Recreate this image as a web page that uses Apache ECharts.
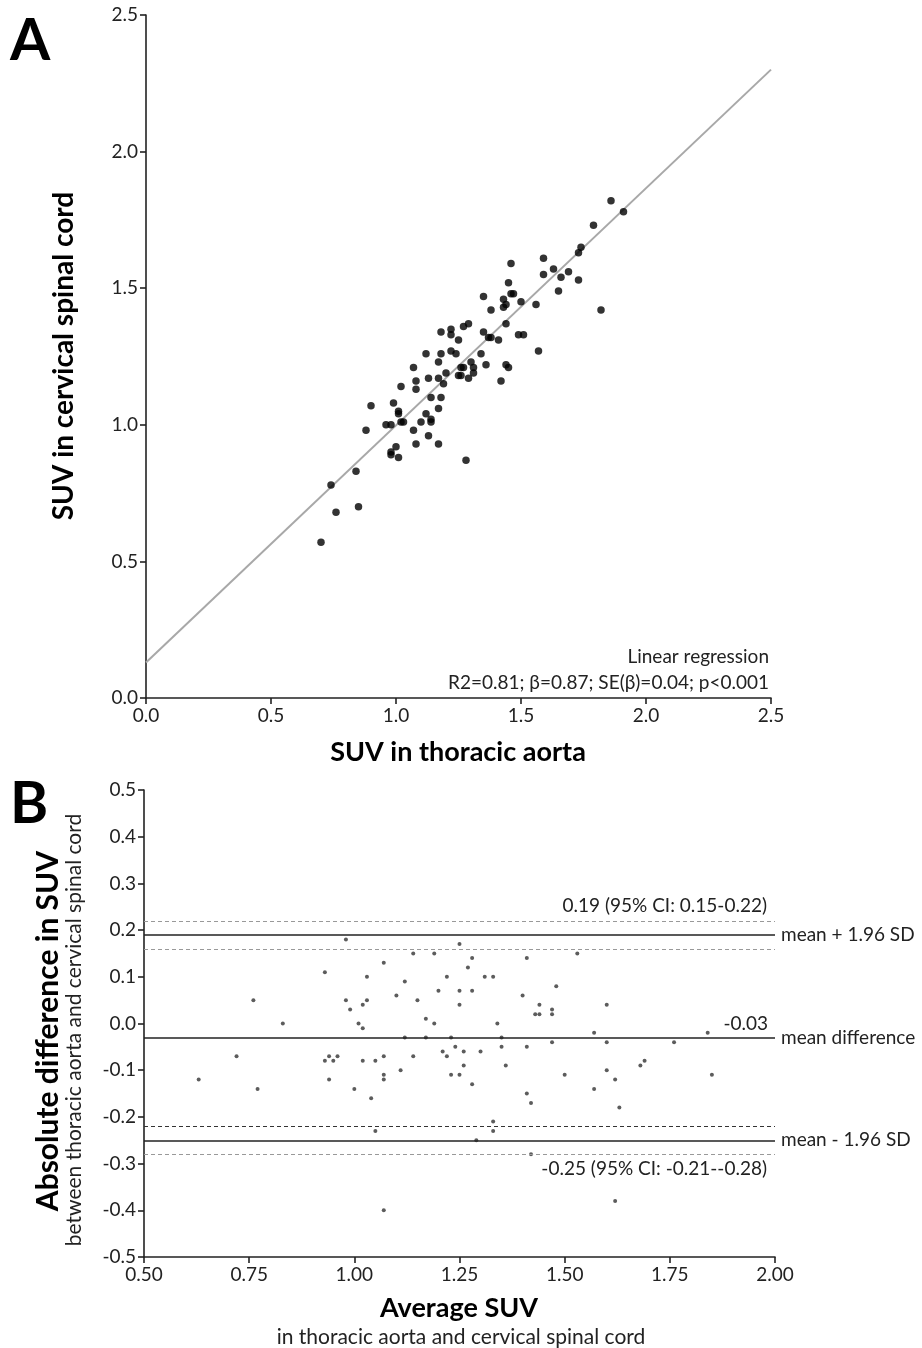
<!DOCTYPE html>
<html><head><meta charset="utf-8">
<script src="https://cdn.jsdelivr.net/npm/echarts@6/dist/echarts.min.js"></script>
<style>html,body{margin:0;padding:0;background:#fff}#c{width:922px;height:1348px}</style>
</head><body><div id="c"></div>
<script>
// Panel A: SUV in thoracic aorta (x) vs SUV in cervical spinal cord (y)
const aortaSUV = [1.86,1.91,1.79,1.74,1.73,1.59,1.63,1.59,1.66,1.69,1.73,1.65,1.82,1.46,1.45,1.46,1.47,1.43,1.44,1.43,1.50,1.56,1.35,1.38,1.44,1.29,1.27,1.22,1.22,1.18,1.25,1.35,1.37,1.38,1.41,1.49,1.51,1.57,1.22,1.24,1.18,1.12,1.17,1.34,1.30,1.36,1.44,1.45,1.27,1.26,1.31,1.31,1.25,1.26,1.29,1.20,1.17,1.13,1.19,1.07,1.08,1.08,1.02,1.42,0.90,0.99,1.01,1.01,1.14,1.18,1.17,1.12,1.14,1.14,1.10,1.02,1.03,0.96,0.98,0.88,1.07,1.13,1.08,1.17,1.00,0.98,0.98,1.01,1.28,0.84,0.74,0.76,0.85,0.70];
const spinalSUV = [1.82,1.78,1.73,1.65,1.63,1.61,1.57,1.55,1.54,1.56,1.53,1.49,1.42,1.59,1.52,1.48,1.48,1.46,1.44,1.43,1.45,1.44,1.47,1.42,1.37,1.37,1.36,1.35,1.33,1.34,1.31,1.34,1.32,1.32,1.31,1.33,1.33,1.27,1.27,1.26,1.26,1.26,1.23,1.26,1.23,1.22,1.22,1.21,1.21,1.21,1.21,1.19,1.18,1.18,1.17,1.19,1.17,1.17,1.15,1.21,1.16,1.13,1.14,1.16,1.07,1.08,1.05,1.04,1.10,1.10,1.06,1.04,1.02,1.01,1.01,1.01,1.01,1.00,1.00,0.98,0.98,0.96,0.93,0.93,0.92,0.90,0.89,0.88,0.87,0.83,0.78,0.68,0.70,0.57];
const regLineX = [0, 2.5];
const regLineY = [0.13, 2.30];
const ticksA = ['0.0','0.5','1.0','1.5','2.0','2.5'];

// Panel B: Bland-Altman
const avgSUV = [0.98,1.25,1.53,1.14,1.19,1.28,1.41,1.07,0.93,1.27,1.03,1.22,1.31,1.33,1.12,1.48,1.20,1.25,1.28,1.10,1.40,0.76,0.98,1.03,1.15,1.02,1.25,1.44,1.60,0.99,1.47,1.43,1.44,1.47,1.17,0.83,1.01,1.19,1.34,1.02,1.12,1.17,1.23,1.35,1.57,1.84,1.24,1.35,1.41,1.47,1.60,1.76,1.21,1.26,1.30,0.72,0.94,0.96,1.07,1.14,1.22,0.93,0.95,1.02,1.05,1.69,1.26,1.36,1.68,1.11,1.60,1.07,1.23,1.25,1.50,1.85,0.63,0.94,1.07,1.62,1.28,0.77,1.00,1.57,1.41,1.04,1.42,1.63,1.33,1.33,1.05,1.29,1.42,1.62,1.07];
const diffSUV = [0.18,0.17,0.15,0.15,0.15,0.14,0.14,0.13,0.11,0.12,0.10,0.10,0.10,0.10,0.09,0.08,0.07,0.07,0.07,0.06,0.06,0.05,0.05,0.05,0.05,0.04,0.04,0.04,0.04,0.03,0.03,0.02,0.02,0.02,0.01,0.00,0.00,0.00,0.00,-0.01,-0.03,-0.03,-0.03,-0.03,-0.02,-0.02,-0.05,-0.05,-0.05,-0.04,-0.04,-0.04,-0.06,-0.06,-0.06,-0.07,-0.07,-0.07,-0.07,-0.07,-0.07,-0.08,-0.08,-0.08,-0.08,-0.08,-0.09,-0.09,-0.09,-0.10,-0.10,-0.11,-0.11,-0.11,-0.11,-0.11,-0.12,-0.12,-0.12,-0.12,-0.13,-0.14,-0.14,-0.14,-0.15,-0.16,-0.17,-0.18,-0.21,-0.23,-0.23,-0.25,-0.28,-0.38,-0.40];
const meanDiff = -0.03;
const upperLoA = 0.19, upperCIlow = 0.158, upperCIhigh = 0.217;
const lowerLoA = -0.25, lowerCIhigh = -0.22, lowerCIlow = -0.281;
const ticksBx = ['0.50','0.75','1.00','1.25','1.50','1.75','2.00'];

const FONT = 'Lato';
const INK = '#222';
const FS = 19;

function axisBase(fmt){
  return {
    axisLine:{show:true,onZero:false,lineStyle:{color:INK,width:1.6}},
    axisTick:{show:true,inside:false,length:6,lineStyle:{color:INK,width:1.6}},
    splitLine:{show:false},
    axisLabel:{color:INK,fontSize:FS,fontFamily:FONT,formatter:fmt}
  };
}

const chart = echarts.init(document.getElementById('c'), null, {renderer:'canvas'});

const lbl = (txt,pos,extra) => Object.assign({show:true,position:pos,formatter:txt,color:INK,fontSize:FS,fontFamily:FONT}, extra||{});

chart.setOption({
  animation:false,
  backgroundColor:'#fff',
  grid:[
    {left:146, top:15, width:625, height:683},
    {left:144, top:790, width:631, height:467}
  ],
  xAxis:[
    Object.assign(axisBase(v=>ticksA[Math.round(v/0.5)]),{gridIndex:0,type:'value',min:0,max:2.5,interval:0.5}),
    Object.assign(axisBase(v=>ticksBx[Math.round((v-0.5)/0.25)]),{gridIndex:1,type:'value',min:0.5,max:2.0,interval:0.25})
  ],
  yAxis:[
    Object.assign(axisBase(v=>v.toFixed(1)),{gridIndex:0,type:'value',min:0,max:2.5,interval:0.5}),
    Object.assign(axisBase(v=>(Math.abs(v)<1e-9?0:v).toFixed(1)),{gridIndex:1,type:'value',min:-0.5,max:0.5,interval:0.1})
  ],
  series:[
    {type:'line',xAxisIndex:0,yAxisIndex:0,data:regLineX.map((x,i)=>[x,regLineY[i]]),symbol:'none',
     lineStyle:{color:'#a8a8a8',width:2},z:1},
    {type:'scatter',xAxisIndex:0,yAxisIndex:0,data:aortaSUV.map((x,i)=>[x,spinalSUV[i]]),
     symbolSize:7.5,itemStyle:{color:'#000'},z:2},
    {type:'scatter',xAxisIndex:1,yAxisIndex:1,data:avgSUV.map((x,i)=>[x,diffSUV[i]]),
     symbolSize:4,itemStyle:{color:'#333'},z:3,
     markLine:{symbol:'none',silent:true,animation:false,data:[
       {yAxis:upperCIhigh,lineStyle:{color:'#999',type:[4,3],width:1.2},label:lbl('0.19 (95% CI: 0.15-0.22)','insideEndTop',{distance:[8,5]})},
       {yAxis:upperLoA,lineStyle:{color:INK,type:'solid',width:1.6},label:lbl('mean + 1.96 SD','end',{distance:6})},
       {yAxis:upperCIlow,lineStyle:{color:'#999',type:[4,3],width:1.2},label:{show:false}},
       {yAxis:meanDiff,lineStyle:{color:INK,type:'solid',width:1.6},label:lbl('mean difference','end',{distance:6})},
       {yAxis:meanDiff,lineStyle:{color:'rgba(0,0,0,0)',width:1},label:lbl('-0.03','insideEndTop',{distance:[7,4]})},
       {yAxis:lowerCIhigh,lineStyle:{color:'#333',type:[4,3],width:1.2},label:{show:false}},
       {yAxis:lowerLoA,lineStyle:{color:INK,type:'solid',width:1.6},label:lbl('mean - 1.96 SD','end',{distance:6})},
       {yAxis:lowerCIlow,lineStyle:{color:'#999',type:[4,3],width:1.2},label:lbl('-0.25 (95% CI: -0.21--0.28)','insideEndBottom',{distance:[8,5]})}
     ]}
    }
  ],
  graphic:[
    {type:'text',x:10,y:12,style:{text:'A',font:'bold 58px '+FONT,fill:'#000'}},
    {type:'text',x:10,y:775,style:{text:'B',font:'bold 58px '+FONT,fill:'#000'}},
    {type:'text',x:64,y:356,rotation:Math.PI/2,style:{text:'SUV in cervical spinal cord',font:'bold 28px '+FONT,fill:'#000',align:'center',verticalAlign:'middle'}},
    {type:'text',x:458,y:752,style:{text:'SUV in thoracic aorta',font:'bold 27px '+FONT,fill:'#000',align:'center',verticalAlign:'middle'}},
    {type:'text',x:769,y:657,style:{text:'Linear regression',font:FS+'px '+FONT,fill:INK,align:'right',verticalAlign:'middle'}},
    {type:'text',x:769,y:683,style:{text:'R2=0.81; \u03b2=0.87; SE(\u03b2)=0.04; p<0.001',font:FS+'px '+FONT,fill:INK,align:'right',verticalAlign:'middle'}},
    {type:'text',x:48,y:1031,rotation:Math.PI/2,style:{text:'Absolute difference in SUV',font:'bold 30px '+FONT,fill:'#000',align:'center',verticalAlign:'middle'}},
    {type:'text',x:74,y:1030,rotation:Math.PI/2,style:{text:'between thoracic aorta and cervical spinal cord',font:'21px '+FONT,fill:INK,align:'center',verticalAlign:'middle'}},
    {type:'text',x:459,y:1308,style:{text:'Average SUV',font:'bold 27px '+FONT,fill:'#000',align:'center',verticalAlign:'middle'}},
    {type:'text',x:461,y:1337,style:{text:'in thoracic aorta and cervical spinal cord',font:'21px '+FONT,fill:INK,align:'center',verticalAlign:'middle'}}
  ]
});
</script></body></html>
